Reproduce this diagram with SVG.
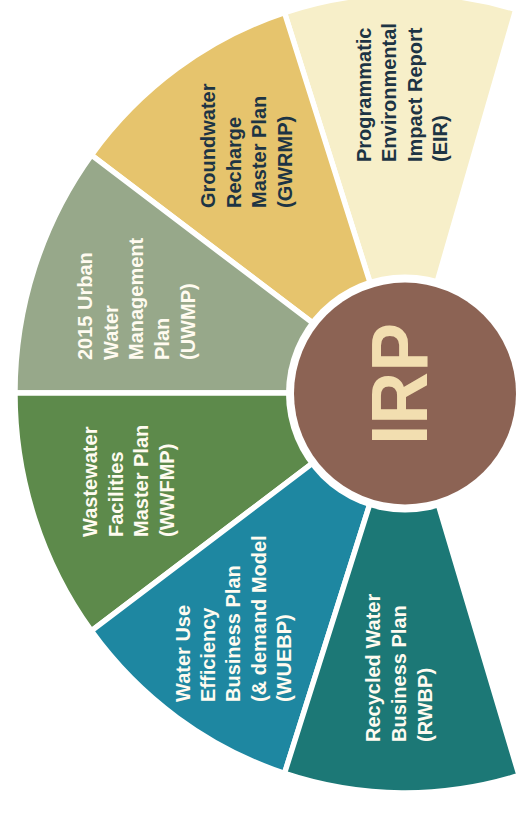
<svg xmlns="http://www.w3.org/2000/svg" width="523" height="814" viewBox="0 0 523 814">
<style>
.seg{stroke:#ffffff;stroke-width:5.5;stroke-linejoin:miter}
.lbl{font-family:"Liberation Sans",Arial,sans-serif;font-weight:bold;font-size:20px}
.dark{fill:#1d3444}
.light{fill:#fffbf0}
</style>
<rect width="523" height="814" fill="#ffffff"/>
<g id="fan" transform="translate(405,393) scale(0.975,1)">
<path id="seg-eir" class="seg" fill="#f7efc9" d="M0 0 L113.6 -383.5 A400 400 0 0 0 -123.6 -380.4 Z"/>
<path id="seg-gwrmp" class="seg" fill="#e6c46d" d="M0 0 L-123.6 -380.4 A400 400 0 0 0 -321.6 -237.9 Z"/>
<path id="seg-uwmp" class="seg" fill="#97a88a" d="M0 0 L-321.6 -237.9 A400 400 0 0 0 -400 0 Z"/>
<path id="seg-wwfmp" class="seg" fill="#5d8a4b" d="M0 0 L-400 0 A400 400 0 0 0 -321.6 237.9 Z"/>
<path id="seg-wuebp" class="seg" fill="#1e87a1" d="M0 0 L-321.6 237.9 A400 400 0 0 0 -123.6 380.4 Z"/>
<path id="seg-rwbp" class="seg" fill="#1c7876" d="M0 0 L-123.6 380.4 A400 400 0 0 0 117 382.5 Z"/>
</g>
<g id="connectors"/>
<g id="node-eir" transform="translate(371,162) rotate(-90)">
<text class="lbl dark"><tspan x="0" y="0">Programmatic</tspan><tspan x="0" y="25.3">Environmental</tspan><tspan x="0" y="50.6">Impact Report</tspan><tspan x="0" y="76">(EIR)</tspan></text>
</g>
<g id="node-gwrmp" transform="translate(215,208) rotate(-90)">
<text class="lbl dark"><tspan x="0" y="0">Groundwater</tspan><tspan x="0" y="25.5">Recharge</tspan><tspan x="0" y="51">Master Plan</tspan><tspan x="0" y="77">(GWRMP)</tspan></text>
</g>
<g id="node-uwmp" transform="translate(92,360) rotate(-90)">
<text class="lbl light"><tspan x="0" y="0">2015 Urban</tspan><tspan x="0" y="25.7">Water</tspan><tspan x="0" y="51.4">Management</tspan><tspan x="0" y="77.1">Plan</tspan><tspan x="0" y="102.8">(UWMP)</tspan></text>
</g>
<g id="node-wwfmp" transform="translate(97,537) rotate(-90)">
<text class="lbl light"><tspan x="0" y="0">Wastewater</tspan><tspan x="0" y="25.5">Facilities</tspan><tspan x="0" y="51">Master Plan</tspan><tspan x="0" y="76.5">(WWFMP)</tspan></text>
</g>
<g id="node-wuebp" transform="translate(190,702) rotate(-90)">
<text class="lbl light"><tspan x="0" y="0">Water Use</tspan><tspan x="0" y="25.2">Efficiency</tspan><tspan x="0" y="50.4">Business Plan</tspan><tspan x="0" y="75.6">(&amp; demand Model</tspan><tspan x="0" y="100.8">(WUEBP)</tspan></text>
</g>
<g id="node-rwbp" transform="translate(380,742) rotate(-90)">
<text class="lbl light"><tspan x="0" y="0">Recycled Water</tspan><tspan x="0" y="26">Business Plan</tspan><tspan x="0" y="52">(RWBP)</tspan></text>
</g>
<g id="node-irp">
<circle cx="405" cy="393.5" r="119" fill="#ffffff"/>
<circle cx="405" cy="393.5" r="111" fill="#8c6354"/>
<text transform="translate(427,445) rotate(-90)" x="0" y="0" font-family="Liberation Sans, Arial, sans-serif" font-weight="bold" font-size="80" fill="#f2deb0" textLength="122" lengthAdjust="spacingAndGlyphs">IRP</text>
</g>
</svg>
